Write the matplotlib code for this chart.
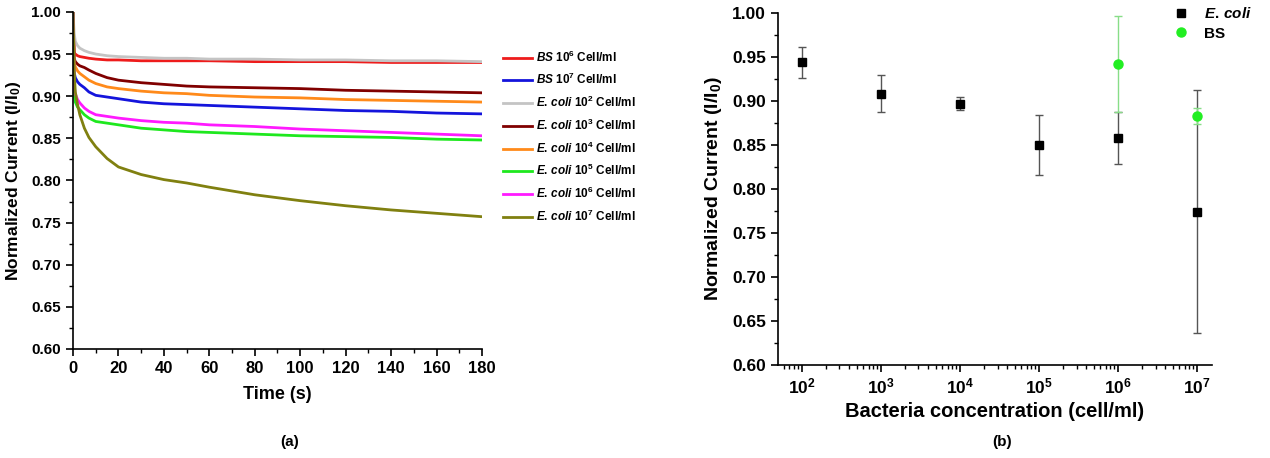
import matplotlib
matplotlib.use("Agg")
import matplotlib.pyplot as plt
import matplotlib.ticker as mticker
from matplotlib.lines import Line2D
import numpy as np

plt.rcParams['font.family'] = ['Liberation Sans', 'DejaVu Sans']
plt.rcParams['font.weight'] = 'bold'
plt.rcParams['mathtext.fontset'] = 'custom'
plt.rcParams['mathtext.rm'] = 'Liberation Sans:bold'
plt.rcParams['mathtext.bf'] = 'Liberation Sans:bold'
plt.rcParams['mathtext.it'] = 'Liberation Sans:bold:italic'
plt.rcParams['axes.linewidth'] = 1.2

# ---------------- Panel (a): time traces ----------------
time_s = [0, 0.5, 1, 2, 3, 5, 7, 10, 15, 20, 30, 40, 50, 60, 80, 100, 120, 140, 160, 180]

bs_1e6 = [1.0, 0.951, 0.950, 0.948, 0.947, 0.946, 0.945, 0.944, 0.943, 0.943, 0.942, 0.942,
          0.942, 0.942, 0.941, 0.941, 0.941, 0.940, 0.940, 0.940]
bs_1e7 = [1.0, 0.928, 0.922, 0.917, 0.914, 0.910, 0.905, 0.901, 0.899, 0.897, 0.893, 0.891,
          0.890, 0.889, 0.887, 0.885, 0.883, 0.882, 0.880, 0.879]
ec_1e2 = [1.0, 0.975, 0.965, 0.960, 0.957, 0.954, 0.952, 0.950, 0.948, 0.947, 0.946, 0.945,
          0.945, 0.944, 0.944, 0.943, 0.943, 0.942, 0.942, 0.941]
ec_1e3 = [1.0, 0.945, 0.941, 0.938, 0.936, 0.934, 0.931, 0.927, 0.922, 0.919, 0.916, 0.914,
          0.912, 0.911, 0.910, 0.909, 0.907, 0.906, 0.905, 0.904]
ec_1e4 = [1.0, 0.940, 0.935, 0.930, 0.927, 0.923, 0.919, 0.915, 0.911, 0.909, 0.906, 0.904,
          0.903, 0.901, 0.899, 0.898, 0.896, 0.895, 0.894, 0.893]
ec_1e5 = [1.0, 0.900, 0.893, 0.887, 0.884, 0.878, 0.874, 0.870, 0.868, 0.866, 0.862, 0.860,
          0.858, 0.857, 0.855, 0.853, 0.852, 0.851, 0.849, 0.848]
ec_1e6 = [1.0, 0.912, 0.903, 0.896, 0.892, 0.886, 0.882, 0.878, 0.876, 0.874, 0.871, 0.869,
          0.868, 0.866, 0.864, 0.861, 0.859, 0.857, 0.855, 0.853]
ec_1e7 = [1.0, 0.930, 0.905, 0.890, 0.878, 0.862, 0.851, 0.840, 0.826, 0.816, 0.807, 0.801,
          0.797, 0.792, 0.783, 0.776, 0.770, 0.765, 0.761, 0.757]

trace_labels = [r"$\it{BS}$ $10^{6}$ Cell/ml", r"$\it{BS}$ $10^{7}$ Cell/ml",
                r"$\it{E.}\,\it{coli}$ $10^{2}$ Cell/ml", r"$\it{E.}\,\it{coli}$ $10^{3}$ Cell/ml",
                r"$\it{E.}\,\it{coli}$ $10^{4}$ Cell/ml", r"$\it{E.}\,\it{coli}$ $10^{5}$ Cell/ml",
                r"$\it{E.}\,\it{coli}$ $10^{6}$ Cell/ml", r"$\it{E.}\,\it{coli}$ $10^{7}$ Cell/ml"]
traces = [bs_1e6, bs_1e7, ec_1e2, ec_1e3, ec_1e4, ec_1e5, ec_1e6, ec_1e7]
trace_colors = ['#ee1c1c', '#1414dc', '#c4c4c4', '#800000', '#ff8a1a', '#1ee81e', '#ff1aff', '#808010']

# ---------------- Panel (b): concentration summary ----------------
conc = [1e2, 1e3, 1e4, 1e5, 1e6, 1e7]
ecoli_mean = [0.944, 0.908, 0.897, 0.850, 0.858, 0.774]
ecoli_err = [0.0175, 0.021, 0.0075, 0.034, 0.030, 0.138]
bs_conc = [1e6, 1e7]
bs_mean = [0.942, 0.883]
bs_err = [0.055, 0.0095]

fig = plt.figure(figsize=(12.7, 4.58), dpi=100)

axa = fig.add_axes([0.0575, 0.238, 0.322, 0.736])
for y, c, lab in zip(traces, trace_colors, trace_labels):
    axa.plot(time_s, y, color=c, lw=2.0, label=lab)
axa.set_xlim(0, 180)
axa.set_ylim(0.60, 1.00)
axa.xaxis.set_major_locator(mticker.MultipleLocator(20))
axa.xaxis.set_minor_locator(mticker.MultipleLocator(10))
axa.yaxis.set_major_locator(mticker.MultipleLocator(0.05))
axa.yaxis.set_minor_locator(mticker.MultipleLocator(0.025))
axa.yaxis.set_major_formatter(mticker.FormatStrFormatter('%.2f'))
axa.set_xlabel("Time (s)", fontsize=13, fontweight='bold', labelpad=7)
axa.set_ylabel(r"Normalized Current (I/I$_{0}$)", fontsize=12.5, fontweight='bold', labelpad=6)
axa.text(0.53, -0.276, "(a)", transform=axa.transAxes, ha='center', va='center',
         fontsize=11, fontweight='bold')
leg = axa.legend(loc='upper left', bbox_to_anchor=(1.025, 0.92), frameon=False,
                 fontsize=8.5, handlelength=2.5, labelspacing=0.64, handletextpad=0.3)

axb = fig.add_axes([0.6126, 0.203, 0.3417, 0.7686])
axb.errorbar(conc, ecoli_mean, yerr=ecoli_err, fmt='s', color='black', ms=6,
             ecolor='#555555', elinewidth=1.0, capsize=3, capthick=1.0)
axb.errorbar(bs_conc, bs_mean, yerr=bs_err, fmt='o', color='#22ee22', ms=6.5,
             ecolor='#88dd88', elinewidth=1.0, capsize=3, capthick=1.0)
axb.set_xscale('log')
axb.set_xlim(10 ** 1.70, 10 ** 7.19)
axb.set_ylim(0.60, 1.00)
axb.yaxis.set_major_locator(mticker.MultipleLocator(0.05))
axb.yaxis.set_minor_locator(mticker.MultipleLocator(0.025))
axb.yaxis.set_major_formatter(mticker.FormatStrFormatter('%.2f'))
axb.xaxis.set_major_locator(mticker.LogLocator(base=10, numticks=12))
axb.xaxis.set_minor_locator(mticker.LogLocator(base=10, subs=np.arange(2, 10), numticks=12))
axb.xaxis.set_minor_formatter(mticker.NullFormatter())
axb.set_xlabel("Bacteria concentration (cell/ml)", fontsize=14.5, fontweight='bold', labelpad=4)
axb.set_ylabel(r"Normalized Current (I/I$_{0}$)", fontsize=14, fontweight='bold', labelpad=6)
axb.text(0.516, -0.219, "(b)", transform=axb.transAxes, ha='center', va='center',
         fontsize=11, fontweight='bold')
handles = [Line2D([], [], ls='none', marker='s', color='black', ms=6),
           Line2D([], [], ls='none', marker='o', color='#22ee22', ms=6.5)]
axb.legend(handles, [r"$\it{E.}\,\it{coli}$", "BS"], loc='upper left',
           bbox_to_anchor=(0.87, 1.058), frameon=False, fontsize=11,
           handletextpad=0.8, labelspacing=0.35, handlelength=1.5)

for ax, ls in ((axa, 11), (axb, 12.5)):
    ax.spines['top'].set_visible(False)
    ax.spines['right'].set_visible(False)
    ax.tick_params(which='major', direction='out', length=5, width=1.2, labelsize=ls)
    ax.tick_params(which='minor', direction='out', length=3, width=1.0)
    for lbl in ax.get_xticklabels() + ax.get_yticklabels():
        lbl.set_fontweight('bold')
axa.tick_params(axis='x', which='major', labelsize=12)

fig.savefig("out.png", dpi=100)
